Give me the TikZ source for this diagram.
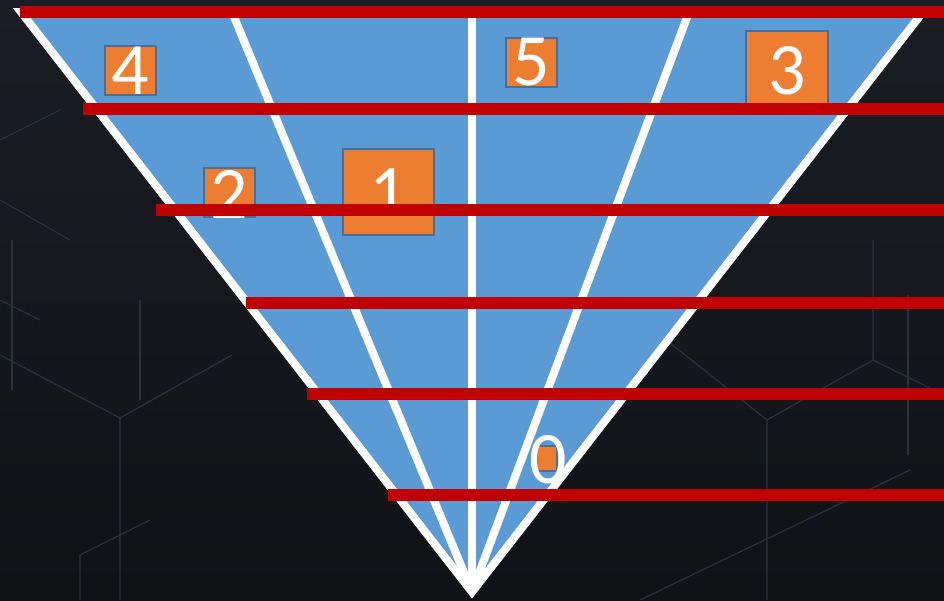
\documentclass[tikz,border=0pt]{standalone}
\usepackage{fontspec}
\setmainfont{Carlito}
\definecolor{bgdark}{HTML}{111216}
\definecolor{bgtop}{HTML}{1A1D23}
\definecolor{hexgray}{HTML}{2A313D}
\definecolor{triblue}{HTML}{5B9BD5}
\definecolor{orangebox}{HTML}{ED7D31}
\definecolor{boxedge}{HTML}{41719C}
\definecolor{barred}{HTML}{C00000}
\begin{document}
\begin{tikzpicture}[x=1pt,y=-1pt,
  redbar/.style={draw=barred, line width=12pt, line cap=butt},
  wline/.style={draw=white, line width=8pt},
  obox/.style={draw=boxedge, line width=1.5pt, fill=orangebox, inner sep=0pt},
  digit/.style={text=white, font=\fontsize{74}{74}\selectfont, inner sep=0pt},
  hexline/.style={draw=hexgray, line width=1.2pt}]
% background
\shade[top color=bgtop, bottom color=bgdark] (0,0) rectangle (944,600);
\useasboundingbox (0,0) rectangle (944,600);
% faint hexagon pattern
\draw[hexline] (12,240) -- (12,390);
\draw[hexline] (0,355) -- (120,418) -- (120,600);
\draw[hexline] (120,418) -- (232,355);
\draw[hexline] (140,300) -- (140,400);
\draw[hexline] (0,300) -- (40,320);
\draw[hexline] (80,600) -- (80,555) -- (150,520);
\draw[hexline] (670,343) -- (767,420) -- (767,600);
\draw[hexline] (767,420) -- (873,360) -- (873,240);
\draw[hexline] (908,295) -- (908,455);
\draw[hexline] (640,600) -- (910,470);
\draw[hexline] (873,360) -- (944,395);
\draw[hexline] (0,140) -- (60,110);
\draw[hexline] (0,200) -- (70,240);
% triangle
\coordinate (A) at (472,592);
\coordinate (L) at (21,12);
\coordinate (R) at (923,12);
\coordinate (TL) at (232,12);
\coordinate (TM) at (472,12);
\coordinate (TR) at (689,12);
\fill[triblue] (L) -- (R) -- (A) -- cycle;
\draw[wline] (A) -- (TL);
\draw[wline] (A) -- (TM);
\draw[wline] (A) -- (TR);
\draw[wline, line join=miter] (L) -- (R) -- (A) -- cycle;
% orange boxes and numbers
\node[obox, minimum width=51pt, minimum height=49pt] (b4) at (130.5,70.5) {};
\node[digit] (t4) at (b4.center) {4};
\node[obox, minimum width=51pt, minimum height=49pt] (b5) at (531.5,62.5) {};
\node[digit] (t5) at (b5.center) {5};
\node[obox, minimum width=82pt, minimum height=82pt] (b3) at (787,72) {};
\node[digit] (t3) at (787,71) {3};
\node[obox, minimum width=51pt, minimum height=49pt] (b2) at (229.5,192.5) {};
\node[digit] (t2) at (229.5,194) {2};
\node[obox, minimum width=91pt, minimum height=86pt] (b1) at (388.5,192) {};
\node[digit] (t1) at (388.5,193) {1};
\node[obox, minimum width=20pt, minimum height=25pt] (b0) at (547,458.5) {};
\node[digit] (t0) at (548,460) {0};
% red bars
\coordinate (r1a) at (20,11.5);   \coordinate (r1b) at (944,11.5);
\coordinate (r2a) at (83,109);    \coordinate (r2b) at (944,109);
\coordinate (r3a) at (156,210);   \coordinate (r3b) at (944,210);
\coordinate (r4a) at (246,302.5); \coordinate (r4b) at (944,302.5);
\coordinate (r5a) at (307,394);   \coordinate (r5b) at (944,394);
\coordinate (r6a) at (388,494.5); \coordinate (r6b) at (944,494.5);
\draw[redbar] (r1a) -- (r1b);
\draw[redbar] (r2a) -- (r2b);
\draw[redbar] (r3a) -- (r3b);
\draw[redbar] (r4a) -- (r4b);
\draw[redbar] (r5a) -- (r5b);
\draw[redbar] (r6a) -- (r6b);
\end{tikzpicture}
\end{document}
